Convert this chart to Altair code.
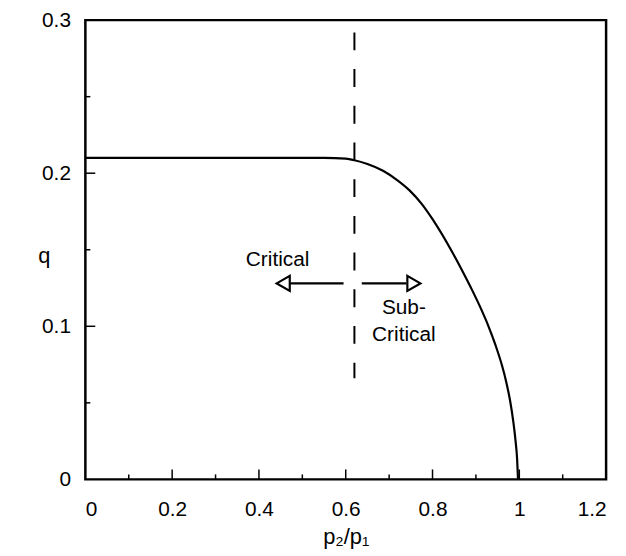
import altair as alt
import pandas as pd

# curve
P_RATIO = [0.0, 0.30, 0.55, 0.60, 0.62, 0.65, 0.686, 0.72, 0.747, 0.775, 0.800, 0.846, 0.870, 0.891, 0.910, 0.929, 0.945, 0.960, 0.970, 0.979, 0.986, 0.991, 0.995, 0.997]
Q_FLOW = [0.210, 0.210, 0.210, 0.2095, 0.2085, 0.2060, 0.2016, 0.1952, 0.1888, 0.1800, 0.1700, 0.1482, 0.1355, 0.1238, 0.1125, 0.100, 0.0878, 0.0745, 0.0635, 0.051, 0.038, 0.026, 0.013, 0.0]

# dashed boundary
BOUND_X = [0.62]
BOUND_Y_TOP = [0.292]
BOUND_Y_BOT = [0.066]

# arrows
ARROW_X_START = [0.595, 0.637]
ARROW_X_END = [0.472, 0.740]
ARROW_Y = [0.128, 0.128]
HEAD_X = [0.456, 0.757]
HEAD_SHAPE = ["triangle-left", "triangle-right"]

# labels
LABEL_TEXT = ["Critical", "Sub-", "Critical"]
LABEL_X = [0.443, 0.734, 0.734]
LABEL_Y = [0.1435, 0.112, 0.094]

# ticks
X_TICKS = [0, 0.2, 0.4, 0.6, 0.8, 1.0, 1.2]
Y_TICKS = [0, 0.1, 0.2, 0.3]
X_MAJOR_IN = [0.2, 0.4, 0.6, 0.8, 1.0]
X_MINOR_IN = [0.1, 0.3, 0.5, 0.7, 0.9, 1.1]
Y_MAJOR_IN = [0.1, 0.2]
Y_MINOR_IN = [0.05, 0.15, 0.25]

W, H = 525, 463
FONT = "Liberation Sans"

xs = alt.Scale(domain=[0, 1.2], nice=False, zero=False)
ys = alt.Scale(domain=[0, 0.3], nice=False, zero=False)

curve_df = pd.DataFrame({"p": P_RATIO, "q": Q_FLOW})

base_x_axis = alt.Axis(
    values=X_TICKS, format="~g", grid=False, ticks=False, tickSize=0, domain=False,
    labelFont=FONT, labelFontSize=21, labelColor="black", labelPadding=19,
    title="p\u2082/p\u2081", titleFont=FONT, titleFontSize=22, titleFontWeight="normal",
    titleColor="black", titleBaseline="alphabetic", titleY=65,
)
base_y_axis = alt.Axis(
    values=Y_TICKS, format="~g", grid=False, ticks=False, tickSize=0, domain=False,
    labelFont=FONT, labelFontSize=21, labelColor="black", labelPadding=15,
    title="q", titleFont=FONT, titleFontSize=22, titleFontWeight="normal",
    titleColor="black", titleAngle=0, titleAlign="center", titleBaseline="middle",
    titleX=-42, titleY=237,
)

curve = alt.Chart(curve_df).mark_line(
    color="black", strokeWidth=2.2, interpolate="monotone"
).encode(
    x=alt.X("p:Q", scale=xs, axis=base_x_axis),
    y=alt.Y("q:Q", scale=ys, axis=base_y_axis),
)

bound = alt.Chart(pd.DataFrame({"x": BOUND_X, "y": BOUND_Y_TOP, "y2": BOUND_Y_BOT})).mark_rule(
    color="black", strokeWidth=2, strokeDash=[18, 19]
).encode(x=alt.X("x:Q", scale=xs), y=alt.Y("y:Q", scale=ys), y2="y2:Q")

arrows = alt.Chart(pd.DataFrame({"x": ARROW_X_START, "x2": ARROW_X_END, "y": ARROW_Y})).mark_rule(
    color="black", strokeWidth=2.2
).encode(x=alt.X("x:Q", scale=xs), x2="x2:Q", y=alt.Y("y:Q", scale=ys))

heads = alt.Chart(pd.DataFrame({"x": HEAD_X, "y": ARROW_Y, "s": HEAD_SHAPE})).mark_point(
    filled=False, color="black", strokeWidth=2.2, size=230, opacity=1
).encode(
    x=alt.X("x:Q", scale=xs), y=alt.Y("y:Q", scale=ys),
    shape=alt.Shape("s:N", scale=None),
)

labels = alt.Chart(pd.DataFrame({"x": LABEL_X, "y": LABEL_Y, "t": LABEL_TEXT})).mark_text(
    font=FONT, fontSize=21, color="black", align="center", baseline="middle"
).encode(x=alt.X("x:Q", scale=xs), y=alt.Y("y:Q", scale=ys), text="t:N")

def xticks(vals, length):
    return alt.Chart(pd.DataFrame({"v": vals})).mark_rule(color="black", strokeWidth=1.5).encode(
        x=alt.X("v:Q", scale=xs), y=alt.value(H), y2=alt.value(H - length)
    )

def yticks(vals, length):
    return alt.Chart(pd.DataFrame({"v": vals})).mark_rule(color="black", strokeWidth=1.5).encode(
        y=alt.Y("v:Q", scale=ys), x=alt.value(0), x2=alt.value(length)
    )

chart = alt.layer(
    xticks(X_MAJOR_IN, 10), xticks(X_MINOR_IN, 5),
    yticks(Y_MAJOR_IN, 10), yticks(Y_MINOR_IN, 5),
    bound, arrows, heads, labels, curve,
).properties(
    width=W, height=H,
    autosize=alt.AutoSizeParams(type="none"),
    padding={"left": 78, "top": 10, "right": 12, "bottom": 72},
    background="white",
).configure_view(
    stroke="black", strokeWidth=2.5
)

chart.save("out.html", embed_options={"renderer": "svg", "actions": False})
